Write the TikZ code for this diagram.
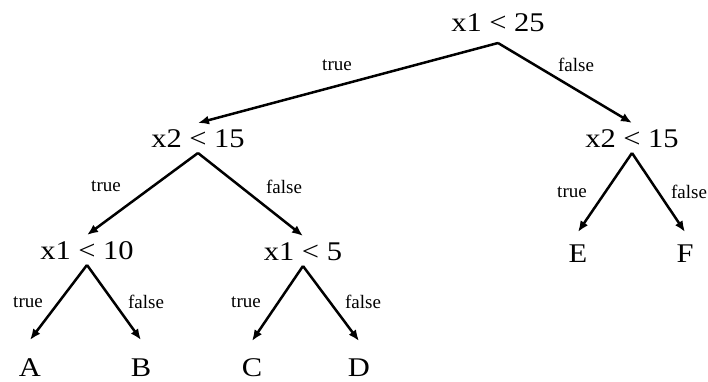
\documentclass[tikz,border=0pt]{standalone}
\usepackage{fontspec}
\setmainfont{Liberation Serif}
\usetikzlibrary{arrows.meta}

\tikzset{
  cond/.style={font=\fontsize{27}{27}\selectfont\addfontfeature{FakeStretch=1.13}, inner sep=0pt, text height=18pt, text depth=0pt, outer sep=6pt, anchor=base},
  leaf/.style={font=\fontsize{27}{27}\selectfont\addfontfeature{FakeStretch=1.13}, inner sep=0pt, text height=18pt, text depth=0pt, outer sep=18pt, anchor=base},
  branch/.style={font=\fontsize{19}{19}\selectfont, inner sep=0pt},
  edge/.style={->, line width=2.5pt}
}

\begin{document}
\begin{tikzpicture}[x=1pt, y=-1pt, >={Latex[length=11pt,width=9pt]}]
\useasboundingbox (0,0) rectangle (708,382);
% Tests
\node[cond, text depth=5pt] (root) at (498,32) {x1 < 25};
\node[cond] (L) at (198,147) {x2 < 15};
\node[cond] (R) at (632,147) {x2 < 15};
\node[cond] (LL) at (87,259) {x1 < 10};
\node[cond] (LR) at (303,260) {x1 < 5};
% Leaves
\node[leaf] (A) at (30,376) {A};
\node[leaf] (B) at (141,376) {B};
\node[leaf, outer sep=17pt] (C) at (252,376) {C};
\node[leaf, outer sep=17pt] (D) at (359,376) {D};
\node[leaf, outer sep=12pt] (E) at (578,262) {E};
\node[leaf, outer sep=12pt] (F) at (685,262) {F};
% Edges
\draw[edge] (root.south) -- (L.north);
\draw[edge] (root.south) -- (R.north);
\draw[edge] (L.south) -- (LL.north);
\draw[edge] (L.south) -- (LR.north);
\draw[edge] (LL.south) -- (A.north);
\draw[edge] (LL.south) -- (B.north);
\draw[edge] (LR.south) -- (C.north);
\draw[edge] (LR.south) -- (D.north);
\draw[edge] (R.south) -- (E.north);
\draw[edge] (R.south) -- (F.north);
% Labels
\node[branch] (t1) at (337,65) {true};
\node[branch] (f1) at (576,65) {false};
\node[branch] (t2) at (106,186) {true};
\node[branch] (f2) at (284,187) {false};
\node[branch] (t3) at (572,192) {true};
\node[branch] (f3) at (689,192) {false};
\node[branch] (t4) at (28,302) {true};
\node[branch] (f4) at (146,302) {false};
\node[branch] (t5) at (246,302) {true};
\node[branch] (f5) at (363,302) {false};
\end{tikzpicture}
\end{document}
